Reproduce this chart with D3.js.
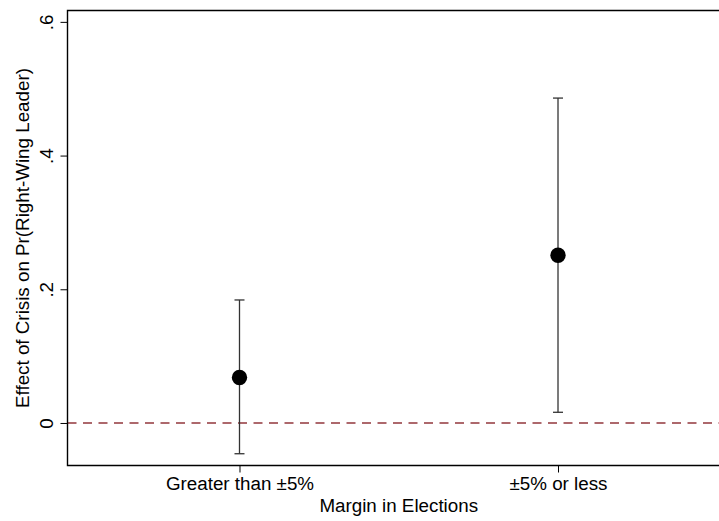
<!DOCTYPE html>
<html>
<head>
<meta charset="utf-8">
<script src="https://cdn.jsdelivr.net/npm/d3@7"></script>
<style>
  html, body { margin: 0; padding: 0; background: #fff; overflow: hidden; }
  svg { display: block; }
  svg text { font-family: "Liberation Sans", Arial, sans-serif; fill: #000; }
</style>
</head>
<body>
<div id="chart"></div>
<script>
// data
const categories = ["Greater than ±5%", "±5% or less"];
const estimates = [0.068, 0.251];
const lowerCI = [-0.046, 0.016];
const upperCI = [0.184, 0.486];
const yTicks = [0, 0.2, 0.4, 0.6];
const yTickLabels = ["0", ".2", ".4", ".6"];

const W = 719, H = 521;
const plot = {left: 67.5, top: 10.5, right: 730, bottom: 465.5};

const svg = d3.select("#chart").append("svg")
  .attr("width", W)
  .attr("height", H);

// scales
const x = d3.scalePoint()
  .domain(categories)
  .range([plot.left, plot.right])
  .padding(0.54);

const y = d3.scaleLinear()
  .domain([-0.0636, 0.617])
  .range([plot.bottom, plot.top]);

// reference line at zero
svg.append("line")
  .attr("x1", plot.left).attr("x2", plot.right)
  .attr("y1", y(0)).attr("y2", y(0))
  .attr("stroke", "#93373d")
  .attr("stroke-width", 1.3)
  .attr("stroke-dasharray", "9,6.5");

// y axis
const yAxis = d3.axisLeft(y)
  .tickValues(yTicks)
  .tickSize(7)
  .tickPadding(8)
  .tickFormat((d, i) => yTickLabels[i]);

const gy = svg.append("g")
  .attr("transform", "translate(" + plot.left + ",0)")
  .call(yAxis);
gy.select(".domain").remove();
gy.selectAll(".tick line").attr("stroke", "#000").attr("stroke-width", 1);
gy.selectAll(".tick text")
  .attr("x", null).attr("dy", null)
  .attr("transform", "translate(-15,0) rotate(-90)")
  .attr("text-anchor", "middle")
  .style("font-size", "18.8px");

// x axis
const xAxis = d3.axisBottom(x)
  .tickSize(7)
  .tickPadding(4);

const gx = svg.append("g")
  .attr("transform", "translate(0," + plot.bottom + ")")
  .call(xAxis);
gx.select(".domain").remove();
gx.selectAll(".tick line").attr("stroke", "#000").attr("stroke-width", 1);
gx.selectAll(".tick text").style("font-size", "18.8px");

// plot frame: left, top and bottom sides only (right side is beyond the canvas)
svg.append("path")
  .attr("d", "M" + plot.right + "," + plot.top +
             "H" + plot.left + "V" + plot.bottom + "H" + plot.right)
  .attr("fill", "none")
  .attr("stroke", "#000")
  .attr("stroke-width", 1.4);

// error bars
const rows = categories.map((c, i) => ({c: c, est: estimates[i], lo: lowerCI[i], hi: upperCI[i]}));

const bars = svg.append("g").selectAll("g")
  .data(rows)
  .enter().append("g")
  .attr("stroke", "#333")
  .attr("stroke-width", 1.3);

bars.append("line")
  .attr("x1", d => x(d.c)).attr("x2", d => x(d.c))
  .attr("y1", d => y(d.lo)).attr("y2", d => y(d.hi));
bars.append("line")
  .attr("x1", d => x(d.c) - 5).attr("x2", d => x(d.c) + 5)
  .attr("y1", d => y(d.lo)).attr("y2", d => y(d.lo));
bars.append("line")
  .attr("x1", d => x(d.c) - 5).attr("x2", d => x(d.c) + 5)
  .attr("y1", d => y(d.hi)).attr("y2", d => y(d.hi));

// point estimates
svg.append("g").selectAll("circle")
  .data(rows)
  .enter().append("circle")
  .attr("cx", d => x(d.c))
  .attr("cy", d => y(d.est))
  .attr("r", 7.7)
  .attr("fill", "#000");

// axis titles
svg.append("text")
  .attr("x", (plot.left + plot.right) / 2)
  .attr("y", 512)
  .attr("text-anchor", "middle")
  .style("font-size", "18.8px")
  .text("Margin in Elections");

svg.append("text")
  .attr("transform", "translate(29," + 238 + ") rotate(-90)")
  .attr("text-anchor", "middle")
  .style("font-size", "18.8px")
  .text("Effect of Crisis on Pr(Right-Wing Leader)");
</script>
</body>
</html>
